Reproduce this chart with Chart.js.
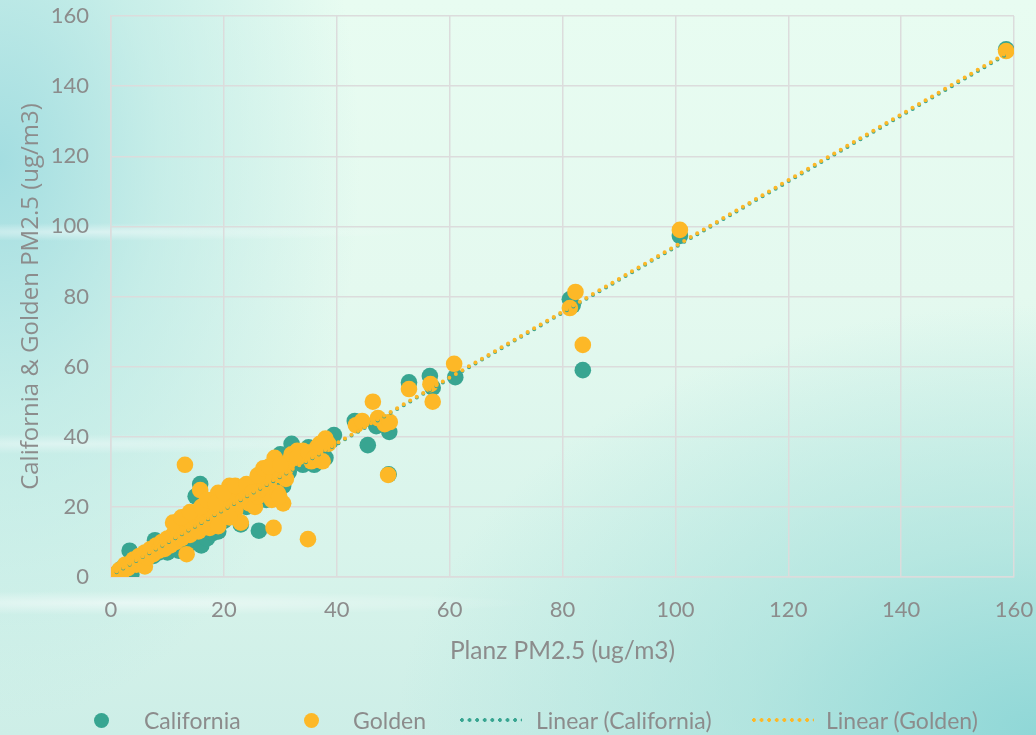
<!DOCTYPE html>
<html>
<head>
<meta charset="utf-8">
<script src="https://cdn.jsdelivr.net/npm/chart.js@4.4.1/dist/chart.umd.min.js"></script>
<style>
  html, body { margin: 0; padding: 0; }
  body {
    width: 1036px; height: 735px; overflow: hidden; position: relative;
    background:
      radial-gradient(ellipse 330px 9px at 90px 232px, rgba(255,255,255,0.45), rgba(255,255,255,0)),
      radial-gradient(ellipse 300px 10px at 60px 444px, rgba(255,255,255,0.4), rgba(255,255,255,0)),
      radial-gradient(ellipse 420px 12px at 120px 603px, rgba(255,255,255,0.5), rgba(255,255,255,0)),
      radial-gradient(ellipse 640px 430px at 100% 100%, rgba(140,214,214,0.95) 0%, rgba(160,222,218,0.6) 45%, rgba(200,240,230,0) 100%),
      radial-gradient(ellipse 360px 560px at 0% 22%, rgba(160,220,224,0.95) 0%, rgba(178,229,227,0.6) 45%, rgba(210,245,236,0) 100%),
      linear-gradient(180deg, #e8fcf1 0%, #e4f9ef 40%, #d8f4eb 75%, #cdeee7 100%);
  }
  #wrap { position: absolute; left: 0; top: 0; width: 1036px; height: 735px; }
  .lg { position: absolute; font-family: Lato, sans-serif; font-size: 23px; color: #8c8c8c; line-height: 26px; top: 707px; white-space: nowrap; }
  .dot { position: absolute; width: 15px; height: 15px; border-radius: 50%; top: 713px; }
  .dline { position: absolute; height: 4px; top: 718px;
    background-size: 7.6px 4px; background-repeat: repeat-x; }
</style>
</head>
<body>
<div id="wrap"><canvas id="c" width="1036" height="735"></canvas></div>

<div class="dot" style="left:94px;background:#38a591"></div>
<div class="lg" style="left:144px">California</div>
<div class="dot" style="left:304px;background:#fdb827"></div>
<div class="lg" style="left:353px">Golden</div>
<div class="dline" style="left:460px;width:62px;background-image:radial-gradient(circle at 2px 2px,#38a591 1.7px,rgba(0,0,0,0) 2.1px)"></div>
<div class="lg" style="left:536px">Linear (California)</div>
<div class="dline" style="left:752px;width:62px;background-image:radial-gradient(circle at 2px 2px,#fdb827 1.7px,rgba(0,0,0,0) 2.1px)"></div>
<div class="lg" style="left:826px">Linear (Golden)</div>

<script>
// ---- data ----
const seriesNames = ['California', 'Golden', 'Linear (California)', 'Linear (Golden)'];

const californiaPoints = [
  [1,1],[1.5,1.5],[2,2.5],[2.5,3],[3,2],[3.3,7.5],[3.6,0.8],[4,4],[4.5,5],[5,4.5],
  [5.5,6],[6,5],[6.5,6.5],[7,7.5],[7.5,6],[7.8,10.5],[8,8],[8.5,7],[9,9],[9.5,8.5],
  [10,10],[10,7],[10.5,11],[11,9],[11.5,8],[12,12],[12,7.5],[12.5,10],[13,13],[13,8],
  [13.5,11],[14,14],[14,9.5],[14.5,12],[15,15],[15,23],[15.5,10],[15.8,26.5],[16,12],[16,9],
  [16.5,14],[17,17],[17,11],[17.5,15],[18,18],[18,12.5],[18.5,16],[19,19],[19.5,17],[20,21],
  [20,16],[21,18],[21.5,22],[22,20],[22.5,24],[23,15],[23,21],[24,23],[24.5,25.5],[25,22],
  [25.5,26],[26.2,13.2],[26.5,24],[27,27],[27.5,22],[28,29],[28.5,25],[29,31],[29.5,23],[30,27],
  [30.5,26],[31,33],[31.5,30],[32,38],[32.5,34],[33,35],[34,32],[35,37],[36,32],[37,33],
  [37.5,36],[38,34],[39,39],[39.5,40.5],[43.2,44.5],[45.5,37.6],[47,43],[48.5,44],[49.3,41.4],[49.2,29.3],
  [52.8,55.5],[56.5,57.3],[57,54],[61,57],[81.3,79.2],[81.8,77.5],[83.6,59],[100.8,97.3],[158.6,150.5],
  [12,14],[14,16],[18,21],[19,13],[21,19.5],[24,20],[27,24],[30,35],[33,33],[35,34],[36,36],[38,38]
];

const goldenPoints = [
  [1,1],[1.5,2],[2,1.5],[2.5,3.5],[3,2.5],[3.5,4],[4,5],[4.5,3.5],[5,6],[5.5,4.5],
  [6,3],[6,7],[6.5,5.5],[7,8],[7.5,6.5],[8,9],[8.5,7.5],[9,10],[9.5,8],[10,11],
  [10.5,9],[11,12],[11.5,10],[12,13],[12,16],[12.5,11],[13.1,32],[13,14],[13.4,6.5],[13.5,16.5],
  [14,12],[14.5,15],[15,17],[15.5,13],[15.8,24.8],[16,18],[16.5,15],[17,20],[17.5,14],[17.5,21.5],
  [18,17],[19,24],[19.5,18],[20,22],[20.5,20],[21,26],[21.5,23],[22,19],[22.5,25],[23,15.5],
  [23.5,22],[24,24],[24.5,21],[25,26],[25.5,20],[26,23],[26.5,28],[27,25],[27.5,30],[28,27],
  [28.5,22],[29,34],[28.8,14],[29.5,24],[30,29],[30.5,21],[31,31],[31.5,33],[32,35],[33,36],
  [34,36],[34.9,10.8],[35.5,33],[36.5,37],[37.5,33],[38,39.5],[38.5,38],[43.4,43.3],[44.5,44.5],[46.4,50],
  [47.3,45.3],[48.5,43.6],[49.4,44.2],[49.1,29.1],[52.8,53.6],[56.6,55],[57,50],[60.8,60.8],[81.3,76.7],[82.3,81.3],
  [83.6,66.2],[100.8,99],[158.6,150],
  [11,15.5],[12.5,17],[14,18.5],[16,20],[17,22],[18.5,21],[19,14.5],[20,24],[21,17],[22,26],
  [24,26.5],[25,24],[26,29],[27,31],[28,31.5],[29.8,23],[30,32],[31,28],[33,34],[35,35.5],[36,34],[37,38]
];

// trendlines (slope, intercept)
const trendCalifornia = { slope: 0.937, intercept: 0.4, from: 1, to: 158.6 };
const trendGolden = { slope: 0.938, intercept: 0.6, from: 1, to: 158.6 };

const axisMin = 0, axisMax = 160, axisStep = 20;
const xTitle = 'Planz PM2.5 (ug/m3)';
const yTitle = 'California & Golden PM2.5 (ug/m3)';

// ---- chart ----
const TEAL = '#38a591', GOLD = '#fdb827', TXT = '#8c8c8c', GRID = '#dcdcdc';
const toXY = arr => arr.map(p => ({ x: p[0], y: p[1] }));
const trend = t => [
  { x: t.from, y: t.slope * t.from + t.intercept },
  { x: t.to, y: t.slope * t.to + t.intercept }
];

new Chart(document.getElementById('c'), {
  type: 'scatter',
  data: {
    datasets: [
      { label: seriesNames[0], data: toXY(californiaPoints), backgroundColor: TEAL, borderColor: TEAL,
        pointRadius: 8.3, pointBorderWidth: 0, order: 3 },
      { label: seriesNames[1], data: toXY(goldenPoints), backgroundColor: GOLD, borderColor: GOLD,
        pointRadius: 8.3, pointBorderWidth: 0, order: 2 },
      { label: seriesNames[2], data: trend(trendCalifornia), showLine: true, pointRadius: 0,
        borderColor: TEAL, borderWidth: 4, borderDash: [0, 7.55], borderCapStyle: 'round', order: 1 },
      { label: seriesNames[3], data: trend(trendGolden), showLine: true, pointRadius: 0,
        borderColor: GOLD, borderWidth: 4, borderDash: [0, 7.55], borderCapStyle: 'round', order: 0 }
    ]
  },
  options: {
    responsive: false,
    animation: false,
    layout: { padding: { left: 0, right: 0, top: 0, bottom: 63 } },
    plugins: { legend: { display: false }, tooltip: { enabled: false } },
    scales: {
      x: {
        type: 'linear', min: axisMin, max: axisMax,
        ticks: { stepSize: axisStep, color: TXT, font: { family: 'Lato', size: 22 }, padding: 20, maxRotation: 0 },
        grid: { color: GRID, lineWidth: 1.5, drawTicks: false },
        border: { color: GRID, width: 1.5 },
        title: { display: true, text: xTitle, color: TXT, font: { family: 'Lato', size: 24.5 }, padding: { top: 0, bottom: 6 } },
        afterFit: s => { s.height = 95; s.paddingLeft = 0; s.paddingRight = 22; }
      },
      y: {
        type: 'linear', min: axisMin, max: axisMax,
        ticks: { stepSize: axisStep, color: TXT, font: { family: 'Lato', size: 22 }, padding: 22 },
        grid: { color: GRID, lineWidth: 1.5, drawTicks: false },
        border: { color: GRID, width: 1.5 },
        title: { display: true, text: yTitle, color: TXT, font: { family: 'Open Sans', size: 24 }, padding: { top: 17, bottom: 0 } },
        afterFit: s => { s.width = 111; s.paddingTop = 16; s.paddingBottom = 0; }
      }
    }
  }
});
</script>
</body>
</html>
